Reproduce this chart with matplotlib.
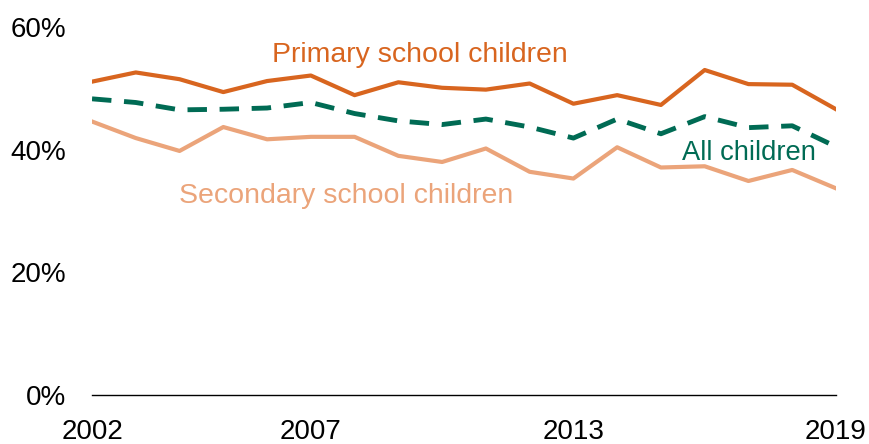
import matplotlib
matplotlib.use("Agg")
from matplotlib import pyplot as plt
import numpy as np

plt.rcParams['font.family'] = ['Liberation Sans', 'DejaVu Sans']

years = list(range(2002, 2020))
primary = [51.1, 52.6, 51.5, 49.4, 51.2, 52.1, 48.9, 51.0, 50.1, 49.8,
           50.8, 47.5, 48.9, 47.3, 53.0, 50.7, 50.6, 46.6]
secondary = [44.6, 41.9, 39.8, 43.7, 41.7, 42.1, 42.1, 39.0, 38.0, 40.2,
             36.4, 35.3, 40.4, 37.1, 37.3, 34.9, 36.7, 33.7]
all_children = [48.3, 47.7, 46.5, 46.6, 46.8, 47.7, 45.9, 44.7, 44.1, 45.0,
                43.7, 41.9, 45.0, 42.6, 45.4, 43.6, 43.9, 40.5]
xtick_years = [2002, 2007, 2013, 2019]
yticks = [0, 20, 40, 60]

c_prim = '#D8651F'
c_sec = '#EBA47A'
c_all = '#006B54'

fig = plt.figure(figsize=(8.69, 4.44), dpi=100)
ax = fig.add_axes([0.1059, 0.1104, 0.962 - 0.1059, 0.939 - 0.1104])

ax.plot(years, primary, color=c_prim, lw=3)
ax.plot(years, secondary, color=c_sec, lw=3)
ax.plot(years, all_children, color=c_all, lw=3.5, dashes=(4, 2.6))

# direct labels instead of a legend
ax.text(2009.5, 54.35, 'Primary school children', color=c_prim, fontsize=20.5,
        ha='center', va='baseline')
ax.text(2007.8, 31.26, 'Secondary school children', color=c_sec, fontsize=20.5,
        ha='center', va='baseline')
ax.text(2017.0, 38.3, 'All children', color=c_all, fontsize=19.7,
        ha='center', va='baseline')

ax.set_xlim(2002, 2019)
ax.set_ylim(0, 60)
ax.set_xticks(xtick_years)
ax.set_xticklabels([str(y) for y in xtick_years])
ax.set_yticks(yticks)
ax.set_yticklabels(['%d%%' % v for v in yticks])
ax.tick_params(axis='both', length=0, labelsize=20)
ax.tick_params(axis='x', pad=17.5)
ax.tick_params(axis='y', pad=18.5)

for s in ['top', 'right', 'left']:
    ax.spines[s].set_visible(False)
ax.spines['bottom'].set_color('black')
ax.spines['bottom'].set_linewidth(1)

fig.savefig('out.png', dpi=100)
